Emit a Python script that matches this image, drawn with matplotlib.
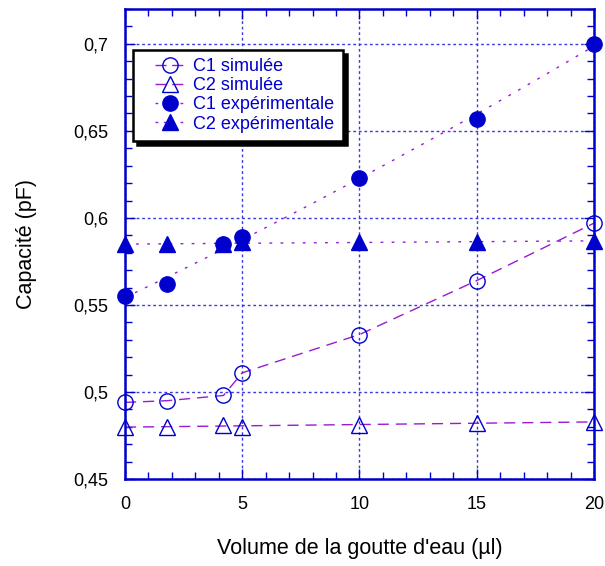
import numpy as np
import matplotlib
matplotlib.use("Agg")
import matplotlib.pyplot as plt
from matplotlib.ticker import MultipleLocator, FuncFormatter
from matplotlib.legend_handler import HandlerLine2D

plt.rcParams['font.family'] = ['Liberation Sans', 'DejaVu Sans']

volume = [0, 1.8, 4.2, 5, 10, 15, 20]
c1_sim = [0.494, 0.495, 0.498, 0.511, 0.533, 0.564, 0.597]
c2_sim = [0.480, 0.480, 0.481, 0.480, 0.481, 0.482, 0.483]
c1_exp = [0.555, 0.562, 0.585, 0.589, 0.623, 0.657, 0.700]
c2_exp = [0.585, 0.585, 0.585, 0.586, 0.586, 0.586, 0.587]

labels = ["C1 simulée", "C2 simulée", "C1 expérimentale", "C2 expérimentale"]

blue = '#0000cc'
purple = '#9a1ad6'
grid_blue = '#3a3ae0'

fig = plt.figure(figsize=(6.05, 5.66), dpi=100)
ax = fig.add_axes([0.2066, 0.1537, 0.7752, 0.8303])

x = np.array(volume)
xs = np.linspace(0, 20, 200)

# fitted curves
p1e = np.polyfit(x, c1_exp, 2)
p2e = np.polyfit(x, c2_exp, 1)
p2s = np.polyfit(x, c2_sim, 1)

ax.plot(x, c1_sim, color=purple, lw=1, dashes=(8, 5), zorder=2)
ax.plot(xs, np.polyval(p2s, xs), color=purple, lw=1, dashes=(8, 5), zorder=2)
ax.plot(xs, np.polyval(p1e, xs), color=purple, lw=1, dashes=(2, 6), zorder=2)
ax.plot(xs, np.polyval(p2e, xs), color=purple, lw=1, dashes=(2, 6), zorder=2)

ms = 11
ax.plot(x, c1_sim, 'o', ms=ms, mfc='none', mec=blue, mew=1, zorder=3, clip_on=False)
ax.plot(x, c2_sim, '^', ms=ms, mfc='none', mec=blue, mew=1, zorder=3, clip_on=False)
ax.plot(x, c1_exp, 'o', ms=ms, mfc=blue, mec=blue, mew=1, zorder=3, clip_on=False)
ax.plot(x, c2_exp, '^', ms=ms, mfc=blue, mec=blue, mew=1, zorder=3, clip_on=False)

# legend handles
h1, = ax.plot([], [], color=purple, lw=1, dashes=(8, 4), marker='o', ms=ms, mfc='none', mec=blue)
h2, = ax.plot([], [], color=purple, lw=1, dashes=(8, 4), marker='^', ms=ms, mfc='none', mec=blue)
h3, = ax.plot([], [], color=purple, lw=1, dashes=(2, 4), marker='o', ms=ms, mfc=blue, mec=blue)
h4, = ax.plot([], [], color=purple, lw=1, dashes=(2, 4), marker='^', ms=ms, mfc=blue, mec=blue)

ax.set_xlim(0, 20)
ax.set_ylim(0.45, 0.72)
ax.xaxis.set_major_locator(MultipleLocator(5))
ax.xaxis.set_minor_locator(MultipleLocator(1))
ax.yaxis.set_major_locator(MultipleLocator(0.05))
ax.yaxis.set_minor_locator(MultipleLocator(0.01))
ax.yaxis.set_major_formatter(FuncFormatter(lambda v, p: ('%g' % round(v, 3)).replace('.', ',')))

ax.grid(True, which='major', color=grid_blue, lw=1, linestyle=(0, (2, 2)))
ax.set_axisbelow(True)

for s in ax.spines.values():
    s.set_color(blue)
    s.set_linewidth(1.8)
ax.tick_params(which='both', direction='in', top=True, right=True, color=blue,
               labelsize=13, labelcolor='black')
ax.tick_params(axis='x', which='major', pad=12)
ax.tick_params(axis='y', which='major', pad=12)
ax.tick_params(which='major', length=7, width=1)
ax.tick_params(which='minor', length=5, width=1)

ax.set_xlabel("Volume de la goutte d'eau (µl)", fontsize=15.5, labelpad=18)
ax.set_ylabel("Capacité (pF)", fontsize=15.5, labelpad=26)

hmap = {h: HandlerLine2D(xpad=0.75) for h in (h1, h2, h3, h4)}
leg = ax.legend([h1, h2, h3, h4], labels, loc='upper left', bbox_to_anchor=(0.017, 0.913),
                fontsize=13, frameon=True, fancybox=False,
                shadow={'color': 'black', 'alpha': 1, 'ox': 3, 'oy': -3},
                handlelength=2.45, handletextpad=0.45, borderpad=0.45, labelspacing=0.12,
                borderaxespad=0, handler_map=hmap)
leg.get_frame().set_edgecolor('black')
leg.get_frame().set_linewidth(1.8)
for t in leg.get_texts():
    t.set_color(blue)

fig.savefig('out.png', dpi=100)
